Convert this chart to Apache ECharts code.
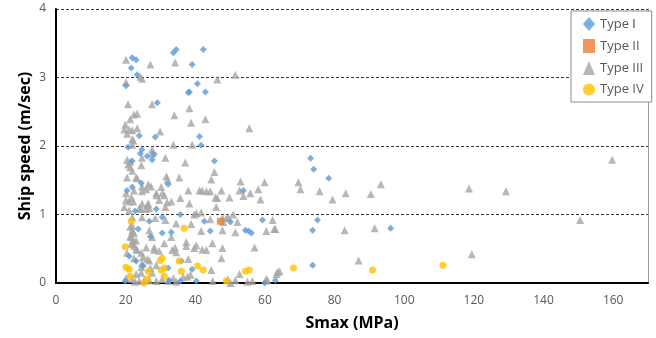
<!DOCTYPE html>
<html><head><meta charset="utf-8">
<script src="https://cdn.jsdelivr.net/npm/echarts@6/dist/echarts.min.js"></script>
<style>html,body{margin:0;padding:0;background:#fff}#c{width:656px;height:338px}</style>
</head><body><div id="c"></div>
<script>
const seriesNames = ["Type Ⅰ", "Type II", "Type III", "Type IV"];
const xTicks = [0, 20, 40, 60, 80, 100, 120, 140, 160];
const yTicks = [0, 1, 2, 3, 4];

const typeI = [[21.9,3.29],[23.0,3.26],[21.6,3.14],[23.3,3.04],[20.1,2.88],[33.7,3.36],[34.5,3.41],[42.3,3.41],[39.1,3.19],[40.6,2.91],[38.0,2.78],[38.3,2.79],[42.9,2.79],[29.1,2.63],[23.9,2.15],[28.5,2.13],[41.2,2.14],[41.7,2.01],[20.7,1.98],[24.7,1.95],[24.2,1.89],[26.2,1.85],[27.6,1.80],[28.2,1.88],[21.9,1.78],[45.5,1.78],[24.5,1.46],[21.9,1.40],[20.4,1.35],[32.2,1.44],[53.8,1.35],[22.7,1.05],[28.8,1.08],[30.5,0.96],[35.7,1.00],[42.6,0.90],[26.8,0.90],[50.1,0.89],[59.3,0.92],[23.6,0.79],[27.1,0.68],[33.1,0.74],[30.5,0.73],[44.3,0.76],[54.4,0.77],[55.3,0.76],[56.1,0.73],[21.0,0.39],[23.0,0.32],[25.0,0.25],[36.0,0.32],[32.2,0.22],[39.1,0.20],[19.9,0.03],[35.7,0.03],[40.3,0.03],[32.5,0.04],[59.9,0.0],[63.0,0.04],[73.1,1.82],[74.0,1.66],[78.3,1.53],[75.1,0.92],[73.7,0.77],[96.1,0.80],[73.7,0.26]];

const typeII = [[47.2,0.90]];

const typeIII = [[20.1,3.26],[27.1,3.19],[34.2,3.22],[20.1,2.93],[24.2,3.01],[24.7,2.98],[46.3,2.97],[51.5,3.04],[20.7,2.61],[27.6,2.61],[23.3,2.47],[22.4,2.46],[21.3,2.39],[38.3,2.55],[34.0,2.45],[38.8,2.34],[42.9,2.39],[55.5,2.26],[19.9,2.31],[19.6,2.24],[23.3,2.26],[21.0,2.24],[21.9,2.23],[20.4,2.18],[29.9,2.21],[22.2,2.08],[21.9,2.02],[33.7,2.02],[39.1,2.02],[27.6,1.95],[21.9,2.10],
[27.6,1.89],[31.4,1.83],[20.4,1.80],[21.3,1.77],[21.3,1.69],[20.7,1.73],[21.9,1.64],[24.7,1.83],[24.5,1.72],[37.1,1.76],[45.5,1.62],[23.3,1.53],[20.4,1.54],[23.0,1.54],[31.7,1.56],[32.0,1.51],[35.4,1.54],[44.6,1.51],[53.0,1.48],[59.9,1.47],[24.7,1.41],[26.5,1.44],[27.3,1.41],[22.4,1.35],[25.9,1.37],[24.7,1.34],[30.2,1.40],[28.8,1.31],[30.5,1.31],[31.1,1.28],[38.0,1.35],[41.2,1.35],[42.0,1.35],[43.2,1.34],[44.3,1.34],[47.5,1.35],[52.7,1.35],[58.1,1.37],[53.8,1.27],[58.7,1.22],[45.8,1.25],[46.3,1.24],[49.8,1.25],[55.8,1.31],[20.1,1.21],[21.0,1.19],[22.2,1.19],[26.5,1.16],[29.6,1.21],[33.1,1.19],[35.7,1.24],[20.1,1.31],[21.6,1.25],[24.7,1.16],[28.8,1.28],[31.9,1.18],[19.6,1.11],[21.0,1.06],[23.9,1.09],[26.2,1.14],[38.3,1.16],[24.5,1.08],[25.9,1.08],[26.8,1.09],[31.4,1.11],[46.0,1.11],[21.9,0.96],[24.7,0.96],[28.5,0.95],[31.4,0.92],[39.7,1.00],[40.3,1.02],[41.7,1.03],[44.3,0.93],[48.1,0.89],[47.8,0.95],[48.9,0.95],[49.5,0.96],[50.9,1.00],[52.1,0.89],[62.2,0.92],
[69.6,1.47],[70.2,1.37],[75.7,1.34],[79.4,1.22],[83.2,1.31],[90.4,1.30],[93.3,1.44],[60.4,0.76],[62.7,0.79],[82.9,0.77],[91.5,0.80],[86.9,0.33],[64.2,0.17],[63.3,0.13],[60.7,0.04],[118.6,1.38],[129.2,1.34],[159.7,1.80],[150.5,0.92],[119.4,0.42],
[21.9,0.84],[21.9,0.77],[22.4,0.73],[21.6,0.67],[26.8,0.77],[34.5,0.87],[38.8,0.86],[41.7,0.76],[47.8,0.77],[51.5,0.74],[63.0,0.79],[23.0,0.62],[21.9,0.60],[25.9,0.52],[28.2,0.52],[29.6,0.47],[34.2,0.52],[37.4,0.54],[40.3,0.55],[42.0,0.49],[47.8,0.51],[57.0,0.52],[44.9,0.58],[20.4,0.44],[22.4,0.36],[38.0,0.35],[47.5,0.36],[24.7,0.29],[24.5,0.23],[28.8,0.26],[44.6,0.19],[52.7,0.13],[37.7,0.09],[51.5,0.04],[56.4,0.03],[60.4,0.06],[63.6,0.16],
[21.3,0.82],[21.9,0.73],[21.3,0.68],[22.2,0.62],[21.6,0.57],[22.4,0.54],[23.0,0.50],[23.3,0.48],[24.5,0.44],[25.0,0.38],[26.2,0.35],[26.8,0.33],[27.1,0.22],[27.6,0.15],[24.5,0.15],[23.0,0.13],[33.4,0.48],[34.5,0.45],[31.1,0.58],[33.1,0.67],[28.2,0.48],[27.6,0.67],[37.4,0.60],[39.7,0.51],[43.2,0.48],[36.5,0.09],[38.6,0.12],
[20.1,0.07],[21.9,0.06],[23.9,0.03],[26.8,0.04],[28.8,0.03],[32.2,0.03],[22.7,0.02],[25.3,0.04],[30.5,0.06],[33.7,0.07],[34.5,0.02],[45.0,0.03],[50.1,0.0],[55.0,0.02],[49.4,0.05]];

const typeIV = [[21.6,0.90],[36.8,0.80],[19.9,0.53],[30.5,0.36],[29.9,0.33],[35.4,0.32],[20.1,0.23],[21.0,0.20],[26.5,0.17],[30.2,0.19],[31.1,0.22],[36.0,0.17],[40.6,0.25],[42.3,0.19],[21.3,0.10],[31.1,0.10],[26.2,0.06],[25.3,0.0],[54.4,0.17],[55.5,0.19],[48.9,0.03],[68.2,0.22],[90.9,0.19],[111.1,0.26]];

const FONT = "'Open Sans', 'Liberation Sans', sans-serif";
const chart = echarts.init(document.getElementById('c'), null, {renderer: 'canvas'});
chart.setOption({
  animation: false,
  backgroundColor: '#fff',
  grid: {left: 56, right: 8, top: 9, bottom: 55, containLabel: false},
  legend: {
    orient: 'vertical', left: 571, top: 11,
    padding: [6, 8, 6, 12],
    itemGap: 8, itemWidth: 12, itemHeight: 14,
    backgroundColor: '#fff', borderColor: '#8c8c8c', borderWidth: 1,
    textStyle: {fontFamily: FONT, fontSize: 13, color: '#595959'},
    data: [
      {name: seriesNames[0], icon: 'diamond'},
      {name: seriesNames[1], icon: 'rect'},
      {name: seriesNames[2], icon: 'triangle'},
      {name: seriesNames[3], icon: 'circle'}
    ]
  },
  xAxis: {
    type: 'value', min: xTicks[0], max: 170, interval: 20,
    name: 'Smax (MPa)', nameLocation: 'middle', nameGap: 32,
    nameTextStyle: {fontFamily: FONT, fontSize: 16, fontWeight: 'bold', color: '#000'},
    axisLine: {show: true, lineStyle: {color: '#000', width: 2}},
    axisTick: {show: false},
    splitLine: {show: false},
    axisLabel: {showMaxLabel: false, fontFamily: FONT, fontSize: 12, color: '#595959', margin: 12}
  },
  yAxis: [{
    type: 'value', min: yTicks[0], max: yTicks[yTicks.length-1], interval: 1,
    name: 'Ship speed (m/sec)', nameLocation: 'middle', nameGap: 23, nameMoveOverlap: false,
    nameTextStyle: {fontFamily: FONT, fontSize: 16, fontWeight: 'bold', color: '#000'},
    axisLine: {show: true, lineStyle: {color: '#000', width: 2}},
    axisTick: {show: false},
    splitLine: {show: true, lineStyle: {color: '#333', type: [3, 2], width: 1}},
    axisLabel: {fontFamily: FONT, fontSize: 12, color: '#595959', margin: 10}
  }, {
    type: 'value', position: 'right', min: 0, max: 4,
    axisLine: {show: true, lineStyle: {color: '#9a9a9a', width: 1}},
    axisTick: {show: false}, axisLabel: {show: false}, splitLine: {show: false}
  }],
  series: [
    {name: seriesNames[2], type: 'scatter', data: typeIII, symbol: 'triangle', symbolSize: 8,
     itemStyle: {color: '#A5A5A5'}, z: 2},
    {name: seriesNames[0], type: 'scatter', data: typeI, symbol: 'diamond', symbolSize: 7,
     itemStyle: {color: '#5B9BD5'}, z: 3},
    {name: seriesNames[1], type: 'scatter', data: typeII, symbol: 'rect', symbolSize: 7,
     itemStyle: {color: '#ED7D31'}, z: 4},
    {name: seriesNames[3], type: 'scatter', data: typeIV, symbol: 'circle', symbolSize: 7,
     itemStyle: {color: '#FFC000'}, z: 4}
  ]
});
</script></body></html>
